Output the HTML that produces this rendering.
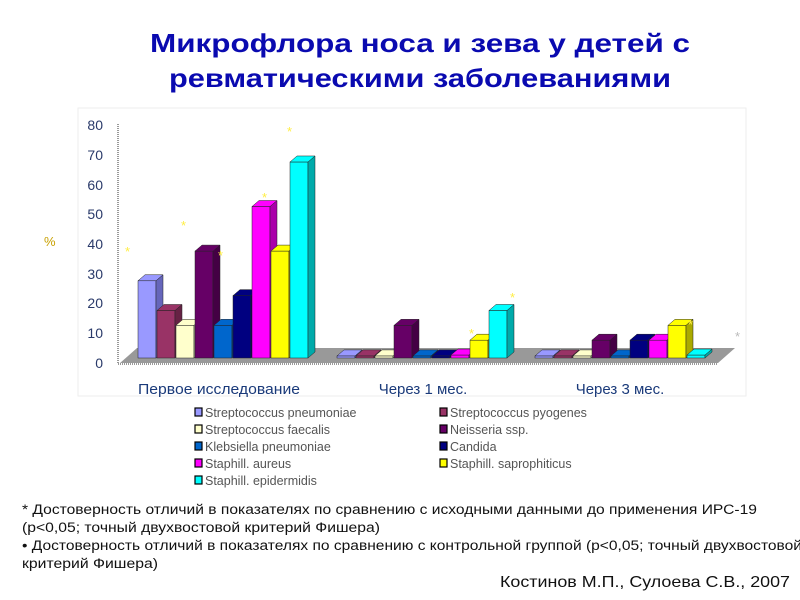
<!DOCTYPE html>
<html><head><meta charset="utf-8"><style>
body{margin:0;background:#fff;width:800px;height:600px;overflow:hidden}
svg{display:block}
</style></head><body>
<svg id="s" width="800" height="600" xmlns="http://www.w3.org/2000/svg" font-family="Liberation Sans, sans-serif">
<text x="420" y="52" text-anchor="middle" font-size="26" font-weight="bold" fill="#0a0ab0" textLength="540" lengthAdjust="spacingAndGlyphs">Микрофлора  носа и зева у детей с</text>
<text x="420" y="87" text-anchor="middle" font-size="26" font-weight="bold" fill="#0a0ab0" textLength="502" lengthAdjust="spacingAndGlyphs">ревматическими заболеваниями</text>
<rect x="78" y="108" width="668" height="288" fill="#fff" stroke="#eee"/>
<g font-size="14" fill="#2a3a6a" text-anchor="end">
<text x="103" y="130">80</text><text x="103" y="160">70</text><text x="103" y="190">60</text><text x="103" y="219">50</text><text x="103" y="249">40</text><text x="103" y="279">30</text><text x="103" y="308">20</text><text x="103" y="338">10</text><text x="103" y="368">0</text>
</g>
<line x1="118" y1="124" x2="118" y2="364" stroke="#333" stroke-dasharray="1,1"/>
<polygon points="120,363 718,363 735,348 137,348" fill="#999"/>
<line x1="118" y1="364" x2="718" y2="364" stroke="#333" stroke-dasharray="1,1"/>
<text x="44" y="246" font-size="13" fill="#c8a000">%</text>
<g id="bars"></g>
<g fill="#ffee44" font-size="13"><text x="125" y="256">*</text><text x="181" y="230">*</text><text x="218" y="260">*</text><text x="262" y="202">*</text><text x="287" y="136">*</text><text x="469" y="338">*</text><text x="510" y="302">*</text><text x="688" y="329">*</text><text x="735" y="341" fill="#bbb">*</text></g>
<g font-size="15" fill="#1a3a7a" text-anchor="middle"><text x="219" y="394" textLength="162" lengthAdjust="spacingAndGlyphs">Первое исследование</text><text x="423" y="394">Через 1 мес.</text><text x="620" y="394">Через 3 мес.</text></g>
<g id="leg" font-size="12.5" fill="#555"></g>
<g font-size="13.5" fill="#111">
<text x="22" y="514" textLength="735" lengthAdjust="spacingAndGlyphs">* Достоверность отличий в показателях по сравнению с исходными данными до применения ИРС-19</text>
<text x="22" y="532" textLength="358" lengthAdjust="spacingAndGlyphs">(p&lt;0,05; точный двухвостовой критерий Фишера)</text>
<text x="22" y="550" textLength="780" lengthAdjust="spacingAndGlyphs">• Достоверность отличий в показателях по сравнению с контрольной группой (p&lt;0,05; точный двухвостовой</text>
<text x="22" y="568" textLength="136" lengthAdjust="spacingAndGlyphs">критерий Фишера)</text>
</g>
<text x="790" y="587" font-size="16" fill="#111" text-anchor="end" textLength="290" lengthAdjust="spacingAndGlyphs">Костинов М.П., Сулоева С.В., 2007</text>
</svg>
<script>
var cols=[["#9999ff","#6666bb"],["#993366","#662244"],["#ffffcc","#bbbb99"],["#660066","#440044"],["#0066cc","#004488"],["#000080","#000055"],["#ff00ff","#aa00aa"],["#ffff00","#aaaa00"],["#00ffff","#00aaaa"]];
var names=["Streptococcus pneumoniae","Streptococcus pyogenes","Streptococcus faecalis","Neisseria ssp.","Klebsiella pneumoniae","Candida","Staphill. aureus","Staphill. saprophiticus","Staphill. epidermidis"];
var data=[[26,16,11,36,11,21,51,36,66],[0,0,0,11,0,0,1,6,16],[0,0,0,6,0,6,6,11,1]];
var starts=[138,337,535],w=18,st=19,base=358,k=2.97,dx=7,dy=6,h="";
data.forEach(function(g,gi){g.forEach(function(v,i){var x=starts[gi]+i*st,t=base-Math.max(v,0.7)*k,c=cols[i];
h+='<rect x="'+x+'" y="'+t+'" width="'+w+'" height="'+(base-t)+'" fill="'+c[0]+'" stroke="#222" stroke-width="0.5"/>';
h+='<polygon points="'+(x+w)+','+t+' '+(x+w+dx)+','+(t-dy)+' '+(x+w+dx)+','+(base-dy)+' '+(x+w)+','+base+'" fill="'+c[1]+'" stroke="#222" stroke-width="0.5"/>';
h+='<polygon points="'+x+','+t+' '+(x+dx)+','+(t-dy)+' '+(x+w+dx)+','+(t-dy)+' '+(x+w)+','+t+'" fill="'+c[0]+'" stroke="#222" stroke-width="0.5"/>';});});
document.getElementById("bars").innerHTML=h;
var l="";names.forEach(function(n,i){var x=i%2?440:195,y=417+Math.floor(i/2)*17;
l+='<rect x="'+x+'" y="'+(y-9)+'" width="7" height="8" fill="'+cols[i][0]+'" stroke="#000" stroke-width="1.2"/><text x="'+(x+10)+'" y="'+y+'">'+n+'</text>';});
document.getElementById("leg").innerHTML=l;
</script>
</body></html>
